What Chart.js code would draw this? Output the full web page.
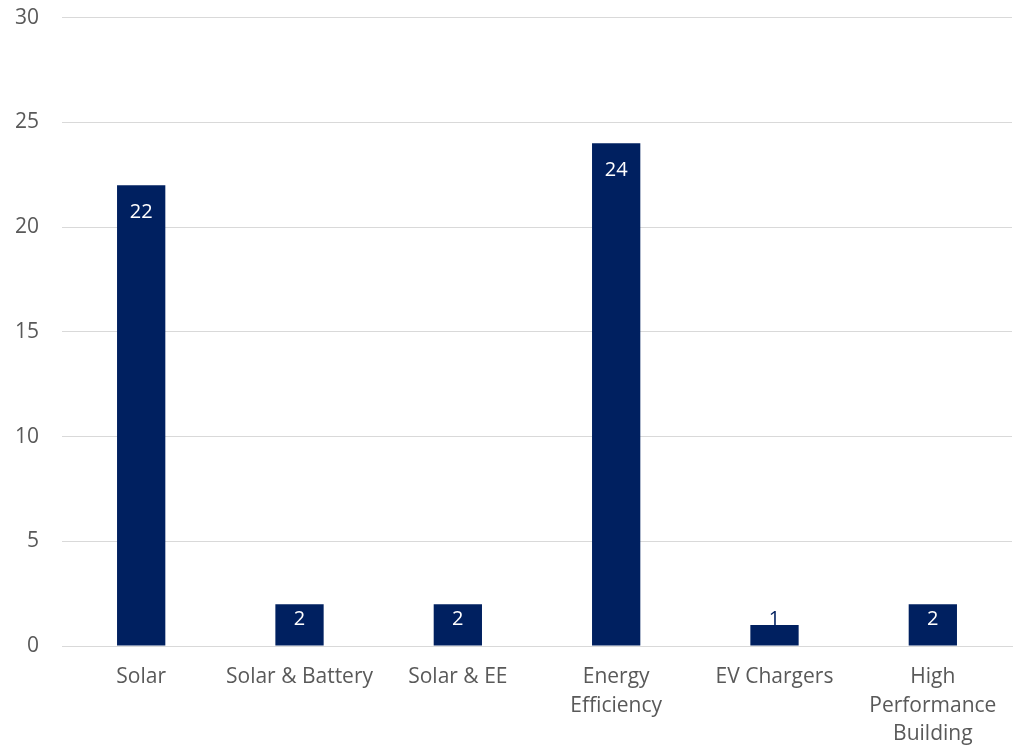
<!DOCTYPE html>
<html>
<head>
<meta charset="utf-8">
<script src="https://cdn.jsdelivr.net/npm/chart.js@4"></script>
<style>
  html, body { margin: 0; padding: 0; background: #fff; overflow: hidden; }
  #wrap { width: 1022px; height: 765px; margin-left: -8px; margin-top: -18px; }
</style>
</head>
<body>
<div id="wrap"><canvas id="chart"></canvas></div>
<script>
const categories = [
  'Solar',
  'Solar & Battery',
  'Solar & EE',
  ['Energy', 'Efficiency'],
  'EV Chargers',
  ['High', 'Performance', 'Building']
];
const counts = [22, 2, 2, 24, 1, 2];
const yTicks = [0, 5, 10, 15, 20, 25, 30];

const navy = '#002060';
const grey = '#595959';
const font = "'Open Sans', sans-serif";

// labels at inside end; short bars get the text pushed up, overflowing part stays navy
const barLabels = {
  id: 'barLabels',
  afterDatasetsDraw(chart) {
    const ctx = chart.ctx;
    const meta = chart.getDatasetMeta(0);
    ctx.save();
    ctx.font = '20px ' + font;
    ctx.textAlign = 'center';
    ctx.textBaseline = 'middle';
    meta.data.forEach((bar, i) => {
      const top = bar.y, bottom = bar.base;
      const y = Math.min(top + 27, bottom - 26);
      const txt = String(counts[i]);
      ctx.fillStyle = navy;
      ctx.fillText(txt, bar.x, y);
      ctx.save();
      ctx.beginPath();
      ctx.rect(bar.x - bar.width / 2, top, bar.width, bottom - top);
      ctx.clip();
      ctx.fillStyle = '#ffffff';
      ctx.fillText(txt, bar.x, y);
      ctx.restore();
    });
    ctx.restore();
  }
};

new Chart(document.getElementById('chart'), {
  type: 'bar',
  data: {
    labels: categories,
    datasets: [{
      data: counts,
      backgroundColor: navy,
      barPercentage: 0.305,
      categoryPercentage: 1
    }]
  },
  options: {
    responsive: true,
    maintainAspectRatio: false,
    animation: false,
    layout: { padding: { top: 0, right: 2, left: 0, bottom: -18 } },
    plugins: {
      legend: { display: false },
      tooltip: { enabled: false }
    },
    scales: {
      x: {
        grid: { display: false, drawTicks: false },
        border: { color: '#d9d9d9', width: 1 },
        ticks: {
          color: grey,
          font: { family: font, size: 21, lineHeight: 1.38 },
          padding: 16,
          maxRotation: 0,
          autoSkip: false
        }
      },
      y: {
        min: 0,
        max: 30,
        afterBuildTicks(axis) {
          axis.ticks = yTicks.map(v => ({ value: v }));
        },
        grid: { color: '#d9d9d9', lineWidth: 1, drawTicks: false },
        border: { display: false },
        ticks: {
          color: grey,
          font: { family: font, size: 21 },
          padding: 23
        }
      }
    }
  },
  plugins: [barLabels]
});
</script>
</body>
</html>
